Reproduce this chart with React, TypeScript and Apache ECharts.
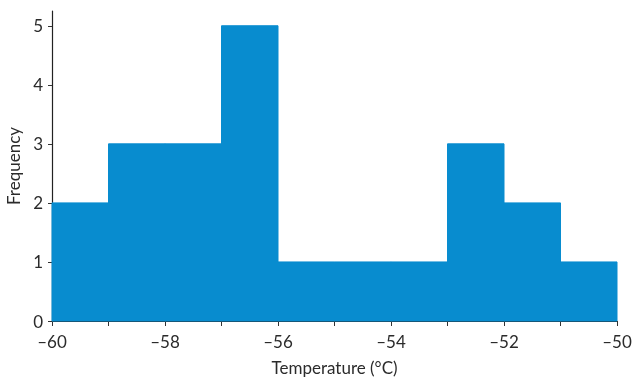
import React, { useEffect, useRef } from "react";
import * as echarts from "echarts";

const binStarts = [-60, -59, -58, -57, -56, -55, -54, -53, -52, -51];
const binWidth = 1;
const frequencies = [2, 3, 3, 5, 1, 1, 1, 3, 2, 1];
const xTickValues = [-60, -59, -58, -57, -56, -55, -54, -53, -52, -51, -50];
const xLabelValues = [-60, -58, -56, -54, -52, -50];
const yTickValues = [0, 1, 2, 3, 4, 5];

const FONT = "Lato, 'Open Sans', sans-serif";
const TEXT = "#2b2b2b";
const BAR = "#088ccf";

export default function App() {
  const ref = useRef<HTMLDivElement>(null);
  useEffect(() => {
    if (!ref.current) return;
    const chart = echarts.init(ref.current, undefined, { renderer: "svg" });
    const data = binStarts.map((s, i) => [s, s + binWidth, frequencies[i]]);
    chart.setOption({
      animation: false,
      grid: { left: 52, right: 15, top: 11, bottom: 60, outerBoundsMode: "none", containLabel: false },
      xAxis: {
        type: "value",
        min: -60,
        max: -50,
        name: "Temperature (°C)",
        nameLocation: "middle",
        nameGap: 38,
        nameTextStyle: { fontFamily: FONT, fontSize: 17, color: TEXT },
        splitLine: { show: false },
        axisLine: { show: true, lineStyle: { color: "#222", width: 1.2 } },
        axisTick: { show: true, length: 5, customValues: xTickValues, lineStyle: { color: "#333" } },
        axisLabel: {
          customValues: xLabelValues,
          margin: 12,
          fontFamily: FONT,
          fontSize: 17,
          color: TEXT,
          formatter: (v: number) => (v < 0 ? "–" + Math.abs(v) : String(v)),
        },
      },
      yAxis: {
        type: "value",
        min: 0,
        max: 5.25,
        name: "Frequency",
        nameLocation: "middle",
        nameGap: 25,
        nameTextStyle: { fontFamily: FONT, fontSize: 17, color: TEXT },
        splitLine: { show: false },
        axisLine: { show: true, lineStyle: { color: "#222", width: 1.2 } },
        axisTick: { show: true, length: 4, customValues: yTickValues, lineStyle: { color: "#333" } },
        axisLabel: {
          customValues: yTickValues,
          margin: 9,
          fontFamily: FONT,
          fontSize: 17,
          color: TEXT,
        },
      },
      series: [
        {
          type: "custom",
          data,
          encode: { x: [0, 1], y: 2 },
          renderItem: (params: any, api: any) => {
            const p0 = api.coord([api.value(0), api.value(2)]);
            const p1 = api.coord([api.value(1), 0]);
            return {
              type: "rect",
              shape: { x: p0[0], y: p0[1], width: p1[0] - p0[0], height: p1[1] - p0[1] },
              style: { fill: BAR, stroke: BAR, lineWidth: 1 },
            };
          },
          z: 1,
        },
      ],
    });
    return () => chart.dispose();
  }, []);
  return <div ref={ref} style={{ width: 632, height: 381, position: "fixed", left: 0, top: 0 }} />;
}
